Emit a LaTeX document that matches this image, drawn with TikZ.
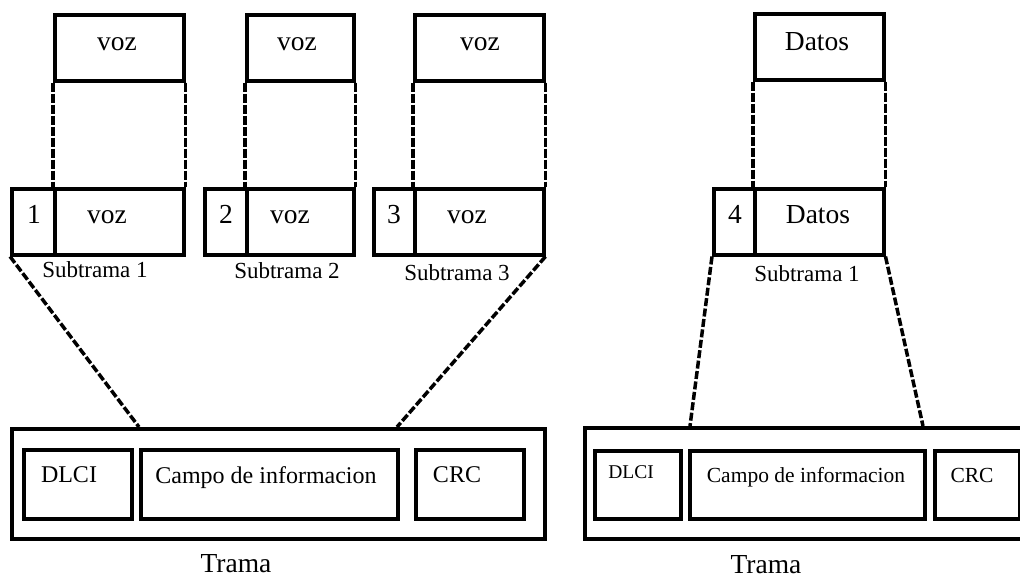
\documentclass[tikz,border=0pt]{standalone}
\usepackage{fontspec}
\setmainfont{Liberation Serif}
\begin{document}
\begin{tikzpicture}[x=1pt,y=-1pt,
  box/.style={draw, line width=3.5pt, inner sep=0pt, anchor=north west},
  vdash/.style={line width=3.5pt, dash pattern=on 9pt off 2pt},
  sdash/.style={line width=3.5pt, dash pattern=on 8pt off 2.5pt},
  big/.style={inner sep=0pt, anchor=base, font=\fontsize{27.5}{30}\selectfont},
  sub/.style={inner sep=0pt, anchor=base, font=\fontsize{23}{26}\selectfont},
  fld/.style={inner sep=0pt, anchor=base, font=\fontsize{24}{27}\selectfont},
  fldr/.style={inner sep=0pt, anchor=base, font=\fontsize{21.5}{25}\selectfont},
  fldd/.style={inner sep=0pt, anchor=base, font=\fontsize{19.5}{22}\selectfont}
]
\useasboundingbox (0,0) rectangle (1020,579);
\clip (0,0) rectangle (1020,579);
\fill[white] (0,0) rectangle (1020,579);

% ---------- Subtrama 1 ----------
\node[box, minimum width=129pt, minimum height=66pt] (t1) at (53,13) {};
\node[box, minimum width=43pt, minimum height=66pt] (n1) at (10,187) {};
\node[box, minimum width=129pt, minimum height=66pt] (v1) at (53,187) {};
\node[big] (t1l) at (117,50) {voz};
\node[big] (n1l) at (34,223) {1};
\node[big] (v1l) at (107,223) {voz};
\node[sub] (s1l) at (95,277) {Subtrama 1};
\draw[vdash] (t1.south west) -- (v1.north west);
\draw[vdash] (t1.south east) -- (v1.north east);

% ---------- Subtrama 2 ----------
\node[box, minimum width=107pt, minimum height=66pt] (t2) at (245,13) {};
\node[box, minimum width=42pt, minimum height=66pt] (n2) at (203,187) {};
\node[box, minimum width=107pt, minimum height=66pt] (v2) at (245,187) {};
\node[big] (t2l) at (297,50) {voz};
\node[big] (n2l) at (226,223) {2};
\node[big] (v2l) at (290,223) {voz};
\node[sub] (s2l) at (287,278) {Subtrama 2};
\draw[vdash] (t2.south west) -- (v2.north west);
\draw[vdash] (t2.south east) -- (v2.north east);

% ---------- Subtrama 3 ----------
\node[box, minimum width=129pt, minimum height=66pt] (t3) at (413,13) {};
\node[box, minimum width=41pt, minimum height=66pt] (n3) at (372,187) {};
\node[box, minimum width=129pt, minimum height=66pt] (v3) at (413,187) {};
\node[big] (t3l) at (480,50) {voz};
\node[big] (n3l) at (394,223) {3};
\node[big] (v3l) at (467,223) {voz};
\node[sub] (s3l) at (457,280) {Subtrama 3};
\draw[vdash] (t3.south west) -- (v3.north west);
\draw[vdash] (t3.south east) -- (v3.north east);

% ---------- Trama izquierda ----------
\node[box, minimum width=533pt, minimum height=110pt] (F1) at (10,427) {};
\node[box, minimum width=108pt, minimum height=69pt] (d1) at (22,448) {};
\node[box, minimum width=257pt, minimum height=69pt] (c1) at (139,448) {};
\node[box, minimum width=108pt, minimum height=69pt] (r1) at (414,448) {};
\node[fld] (d1l) at (69,482) {DLCI};
\node[fld] (c1l) at (266,483) {Campo de informacion};
\node[fld] (r1l) at (457,482) {CRC};
\node[big] (T1l) at (236,572) {Trama};
\coordinate (a1) at (139,427);
\coordinate (a2) at (397,427);
\draw[sdash] (n1.south west) -- (a1);
\draw[sdash] (v3.south east) -- (a2);

% ---------- Subtrama 1 (datos) ----------
\node[box, minimum width=129pt, minimum height=66pt] (t4) at (753,12) {};
\node[box, minimum width=41pt, minimum height=66pt] (n4) at (712,187) {};
\node[box, minimum width=129pt, minimum height=66pt] (v4) at (753,187) {};
\node[big] (t4l) at (817,50) {Datos};
\node[big] (n4l) at (735,223) {4};
\node[big] (v4l) at (818,223) {Datos};
\node[sub] (s4l) at (807,281) {Subtrama 1};
\draw[vdash] (t4.south west) -- (v4.north west);
\draw[vdash] (t4.south east) -- (v4.north east);

% ---------- Trama derecha ----------
\node[box, minimum width=445pt, minimum height=111pt] (F2) at (583,426) {};
\node[box, minimum width=86pt, minimum height=68pt] (d2) at (593,449) {};
\node[box, minimum width=235pt, minimum height=68pt] (c2) at (688,449) {};
\node[box, minimum width=85pt, minimum height=68pt] (r2) at (933,449) {};
\node[fldd] (d2l) at (631,478) {DLCI};
\node[fldr] (c2l) at (806,482) {Campo de informacion};
\node[fldr] (r2l) at (972,482) {CRC};
\node[big] (T2l) at (766,573) {Trama};
\coordinate (b1) at (690,426);
\coordinate (b2) at (923,426);
\draw[sdash] (n4.south west) -- (b1);
\draw[sdash] (v4.south east) -- (b2);
\end{tikzpicture}
\end{document}
